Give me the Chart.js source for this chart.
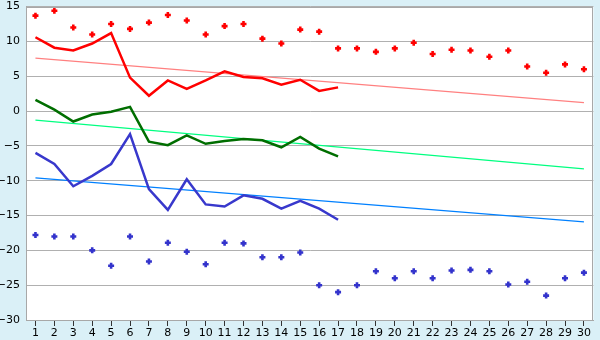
<!DOCTYPE html>
<html><head><meta charset="utf-8">
<script src="https://cdn.jsdelivr.net/npm/chart.js@4"></script>
<style>html,body{margin:0;padding:0;background:#daf0f7;}canvas{display:block;}</style>
</head><body>
<canvas id="c" width="600" height="340"></canvas>
<script>
const categories = ['1','2','3','4','5','6','7','8','9','10','11','12','13','14','15','16','17','18','19','20','21','22','23','24','25','26','27','28','29','30'];
const maxPoints = [13.7,14.4,12.0,11.0,12.5,11.8,12.7,13.8,13.0,11.0,12.2,12.5,10.4,9.7,11.7,11.4,9.0,9.0,8.5,9.0,9.8,8.2,8.8,8.7,7.8,8.7,6.4,5.5,6.7,6.0];
const minPoints = [-17.8,-18.0,-18.0,-20.0,-22.2,-18.0,-21.6,-18.9,-20.2,-22.0,-18.9,-19.0,-21.0,-21.0,-20.3,-25.0,-26.0,-25.0,-23.0,-24.0,-23.0,-24.0,-22.9,-22.8,-23.0,-24.9,-24.5,-26.5,-24.0,-23.2];
const redLine = [10.6,9.1,8.7,9.7,11.2,4.8,2.2,4.4,3.2,4.4,5.7,4.9,4.7,3.8,4.5,2.9,3.4];
const greenLine = [1.6,0.2,-1.5,-0.5,-0.1,0.6,-4.4,-4.9,-3.5,-4.7,-4.3,-4.0,-4.2,-5.2,-3.7,-5.4,-6.5];
const blueLine = [-6.0,-7.6,-10.8,-9.3,-7.6,-3.3,-11.2,-14.2,-9.8,-13.4,-13.7,-12.1,-12.6,-14.0,-12.9,-14.0,-15.6];
const redTrend = [7.6,1.2];
const greenTrend = [-1.3,-8.3];
const blueTrend = [-9.6,-15.9];
const yTicks = {min:-30,max:15,step:5};

function ends(pair){const a=categories.map(()=>null);a[0]=pair[0];a[a.length-1]=pair[1];return a;}

const frame = {
  id:'frame',
  beforeDraw(ch){const a=ch.chartArea,c=ch.ctx;c.save();c.fillStyle='#daf0f7';c.fillRect(0,0,ch.width,ch.height);c.fillStyle='#fff';c.fillRect(a.left,a.top,a.right-a.left,a.bottom-a.top);c.restore();},
  afterDraw(ch){const a=ch.chartArea,c=ch.ctx;c.save();c.strokeStyle='#a8a8a8';c.lineWidth=1;c.strokeRect(Math.round(a.left)+0.5,Math.round(a.top)+0.5,Math.round(a.right-a.left)-1,Math.round(a.bottom-a.top));c.restore();}
};

new Chart(document.getElementById('c'),{
  type:'line',
  data:{labels:categories,datasets:[
    {data:maxPoints,showLine:false,pointStyle:'cross',pointRadius:3,pointBorderWidth:2.6,borderColor:'#ff0000',backgroundColor:'#ff0000',order:0},
    {data:minPoints,showLine:false,pointStyle:'cross',pointRadius:3,pointBorderWidth:2.6,borderColor:'#3333cc',backgroundColor:'#3333cc',order:0},
    {data:redLine,borderColor:'#ff0000',borderWidth:2.5,pointRadius:0,tension:0,order:1},
    {data:greenLine,borderColor:'#006e00',borderWidth:2.5,pointRadius:0,tension:0,order:1},
    {data:blueLine,borderColor:'#3838cc',borderWidth:2.5,pointRadius:0,tension:0,order:1},
    {data:ends(redTrend),borderColor:'#ff8080',borderWidth:1.2,pointRadius:0,spanGaps:true,order:2},
    {data:ends(greenTrend),borderColor:'#00ff80',borderWidth:1.2,pointRadius:0,spanGaps:true,order:2},
    {data:ends(blueTrend),borderColor:'#0080ff',borderWidth:1.2,pointRadius:0,spanGaps:true,order:2}
  ]},
  options:{
    responsive:false,animation:false,
    layout:{padding:{top:5,right:5,left:0,bottom:0}},
    plugins:{legend:{display:false},tooltip:{enabled:false}},
    scales:{
      x:{offset:true,
        grid:{offset:false,drawOnChartArea:false,drawTicks:true,tickLength:6,tickColor:'#333',color:'#333'},
        border:{color:'#a8a8a8'},
        ticks:{color:'#000',font:{family:'DejaVu Sans',size:11},padding:1,maxRotation:0,autoSkip:false},
        afterFit(s){s.height=20;}
      },
      y:{min:yTicks.min,max:yTicks.max,
        grid:{color:'#b0b0b0',drawTicks:false},
        border:{color:'#a8a8a8'},
        ticks:{stepSize:yTicks.step,color:'#000',font:{family:'DejaVu Sans',size:11},padding:6,
          callback:v=>v<0?'\u2212'+Math.abs(v):String(v)},
        afterFit(s){s.width=26;s.paddingTop=0;s.paddingBottom=0;}
      }
    }
  },
  plugins:[frame]
});
</script>
</body></html>
